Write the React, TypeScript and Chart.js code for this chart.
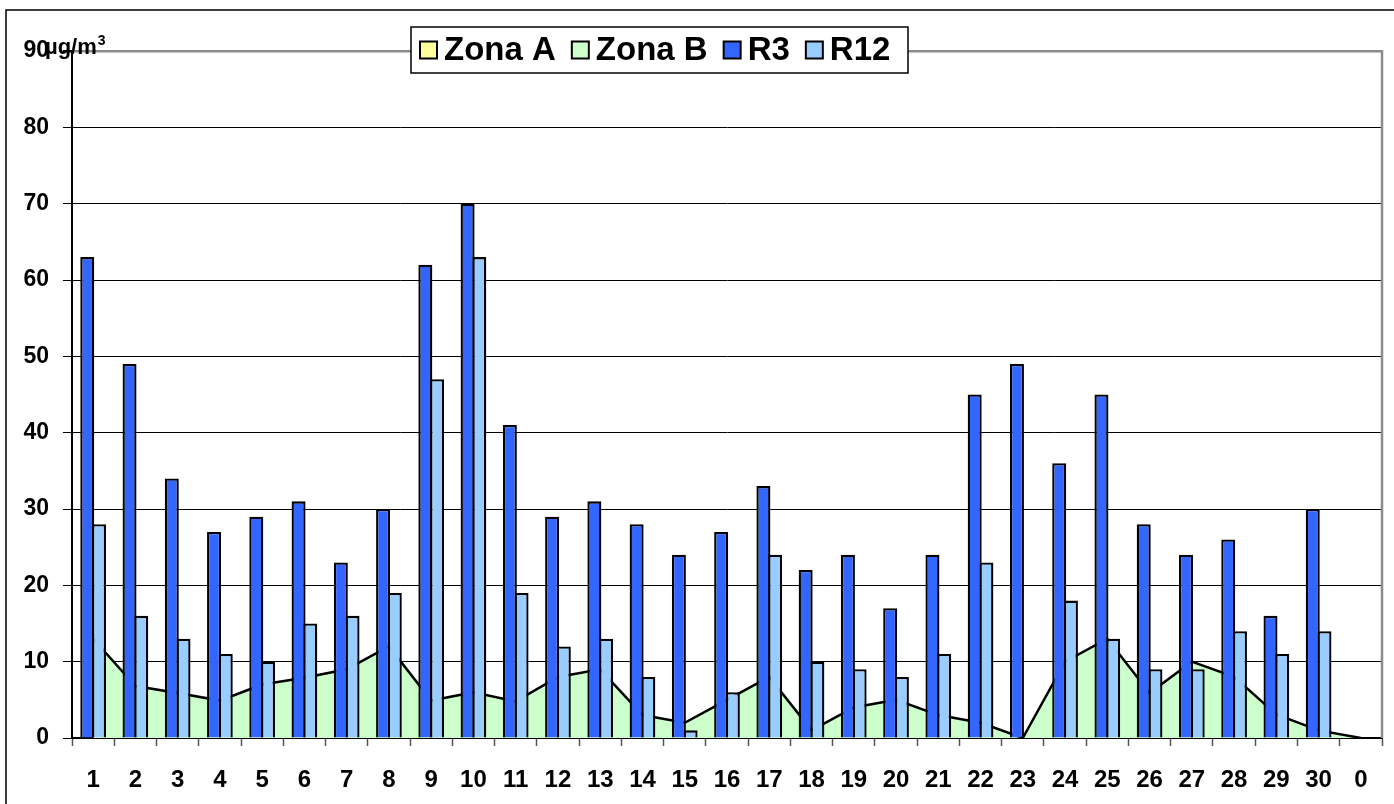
import React, { useEffect, useRef } from "react";
import { Chart, registerables } from "chart.js";

Chart.register(...registerables);

const categories = ["1","2","3","4","5","6","7","8","9","10","11","12","13","14","15","16","17","18","19","20","21","22","23","24","25","26","27","28","29","30","0"];
const zonaA = [0,0,0,0,0,0,0,0,0,0,0,0,0,0,0,0,0,0,0,0,0,0,0,0,0,0,0,0,0,0,0];
const zonaB = [13,6.8,5.9,4.9,7,7.9,9,12,4.9,6,4.8,8,9,3,2,5,8,1,4,5,3,2,0,10,13,5.9,10,8,3.1,1,0];
const r3 = [63,49,34,27,29,31,23,30,62,70,41,29,31,28,24,27,33,22,24,17,24,45,49,36,45,28,24,26,16,30,null];
const r12 = [28,16,13,11,10,15,16,19,47,63,19,12,13,8,1,6,24,10,9,8,11,23,null,18,13,9,9,14,11,14,null];
const yMin = 0;
const yMax = 90;
const yStep = 10;
const unitMain = "µg/m";
const unitSup = "3";

const FONT = "'Liberation Sans', Arial, sans-serif";

const decorPlugin = {
  id: "decor",
  afterDraw(chart: any) {
    const ctx = chart.ctx as CanvasRenderingContext2D;
    const ca = chart.chartArea;
    ctx.save();
    // plot area right border (gray)
    ctx.strokeStyle = "#8c8c8c";
    ctx.lineWidth = 2.5;
    ctx.beginPath();
    ctx.moveTo(ca.right, ca.top - 1);
    ctx.lineTo(ca.right, ca.bottom);
    ctx.stroke();
    // outer chart border
    ctx.strokeStyle = "#000";
    ctx.lineWidth = 1.5;
    ctx.strokeRect(6, 10, 3000, 3000);
    // unit label
    ctx.fillStyle = "#000";
    ctx.textBaseline = "alphabetic";
    ctx.textAlign = "left";
    ctx.font = `bold 22px ${FONT}`;
    ctx.fillText(unitMain, 45, 54);
    const w = ctx.measureText(unitMain).width;
    ctx.font = `bold 14px ${FONT}`;
    ctx.fillText(unitSup, 45 + w + 1, 45);
    // legend
    const ds = chart.data.datasets;
    const fontSize = 33;
    ctx.font = `bold ${fontSize}px ${FONT}`;
    const sq = 17;
    const gap1 = 7;
    const gap2 = 16;
    const padL = 9;
    const boxLeft = 411;
    const boxTop = 27;
    const boxH = 46;
    let x = boxLeft + padL;
    const cy = boxTop + boxH / 2;
    const items: any[] = [];
    ds.forEach((d: any, i: number) => {
      const tw = ctx.measureText(d.label).width;
      items.push({ x, tw, d });
      x += sq + gap1 + tw + (i < ds.length - 1 ? gap2 : 0);
    });
    const boxRight = Math.max(x + padL, 908);
    ctx.fillStyle = "#fff";
    ctx.fillRect(boxLeft, boxTop, boxRight - boxLeft, boxH);
    ctx.strokeStyle = "#000";
    ctx.lineWidth = 1.5;
    ctx.strokeRect(boxLeft, boxTop, boxRight - boxLeft, boxH);
    items.forEach((it) => {
      ctx.fillStyle = it.d.backgroundColor;
      ctx.fillRect(it.x, cy - sq / 2, sq, sq);
      ctx.strokeStyle = "#000";
      ctx.lineWidth = 2;
      ctx.strokeRect(it.x, cy - sq / 2, sq, sq);
      ctx.fillStyle = "#000";
      ctx.textBaseline = "middle";
      ctx.fillText(it.d.label, it.x + sq + gap1, cy + 1);
    });
    ctx.restore();
  },
};

export default function App() {
  const ref = useRef<HTMLCanvasElement>(null);
  useEffect(() => {
    if (!ref.current) return;
    const chart = new Chart(ref.current, {
      type: "bar",
      data: {
        labels: categories,
        datasets: [
          {
            type: "line",
            label: "Zona A",
            data: zonaA,
            backgroundColor: "#FFFF99",
            borderColor: "rgba(0,0,0,0)",
            borderWidth: 0,
            fill: "origin",
            pointRadius: 0,
            tension: 0,
            order: 4,
          } as any,
          {
            type: "line",
            label: "Zona B",
            data: zonaB,
            backgroundColor: "#CCFFCC",
            borderColor: "#000",
            borderWidth: 2.5,
            fill: "origin",
            pointRadius: 0,
            tension: 0,
            order: 3,
          } as any,
          {
            type: "bar",
            label: "R3",
            data: r3,
            backgroundColor: "#3366FF",
            borderColor: "#000",
            borderWidth: 2.3,
            categoryPercentage: 0.554,
            barPercentage: 1.197,
            order: 1,
          } as any,
          {
            type: "bar",
            label: "R12",
            data: r12,
            backgroundColor: "#99CCFF",
            borderColor: "#000",
            borderWidth: 2.3,
            categoryPercentage: 0.554,
            barPercentage: 1.197,
            order: 2,
          } as any,
        ],
      },
      options: {
        animation: false,
        responsive: false,
        devicePixelRatio: 1,
        layout: { padding: { left: 0, top: 51, right: 12, bottom: 0 } },
        plugins: { legend: { display: false }, tooltip: { enabled: false } },
        scales: {
          x: {
            type: "category",
            offset: true,
            grid: {
              offset: true,
              drawOnChartArea: false,
              drawTicks: true,
              tickLength: 8,
              tickColor: "#555",
              tickWidth: 1.5,
            },
            border: { color: "#000", width: 2 },
            ticks: {
              font: { family: FONT, weight: "bold", size: 24 },
              color: "#000",
              padding: 20,
              maxRotation: 0,
              autoSkip: false,
            },
            afterFit: (s: any) => {
              s.height = 66;
            },
          },
          y: {
            min: yMin,
            max: yMax,
            ticks: {
              stepSize: yStep,
              font: { family: FONT, weight: "bold", size: 23 },
              color: "#000",
              padding: 14,
            },
            grid: {
              color: (c: any) => (c.tick && c.tick.value === yMax ? "#8c8c8c" : "#000"),
              lineWidth: (c: any) => (c.tick && c.tick.value === yMax ? 2.5 : 1),
              tickLength: 9,
              tickColor: "#000",
            },
            border: { color: "#000", width: 2 },
            afterFit: (s: any) => {
              s.width = 72;
            },
          },
        },
      },
      plugins: [decorPlugin],
    } as any);
    return () => chart.destroy();
  }, []);
  return (
    <div style={{ position: "fixed", left: 0, top: 0, width: 1394, height: 804, background: "#fff" }}>
      <canvas ref={ref} width={1394} height={804} style={{ width: 1394, height: 804, display: "block" }} />
    </div>
  );
}
